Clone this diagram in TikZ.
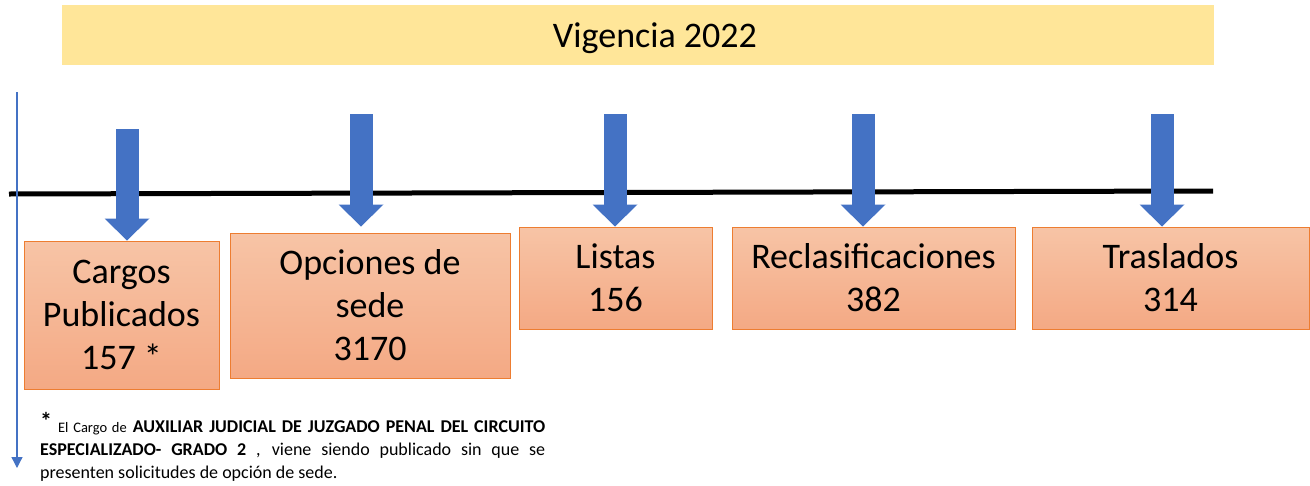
\documentclass[tikz,border=0pt]{standalone}
\usepackage{fontspec}
\setmainfont{Carlito}
\usetikzlibrary{arrows.meta}
\usetikzlibrary{positioning}
\definecolor{azulflecha}{HTML}{4472C4}
\definecolor{bordenaranja}{HTML}{ED7D31}
\definecolor{naranjaclaro}{HTML}{F7C4A6}
\definecolor{naranjaoscuro}{HTML}{F4A984}
\definecolor{amarillo}{HTML}{FFE699}

\begin{document}
\begin{tikzpicture}[x=1pt, y=-1pt, >=Stealth,
	caja/.style={draw=bordenaranja, line width=1pt, top color=naranjaclaro, bottom color=naranjaoscuro,
		inner sep=0pt, align=center, font=\fontsize{36}{43}\selectfont},
	flecha/.style={azulflecha, line width=23pt, -{Triangle[width=45pt, length=22pt, line width=0pt]}}]
	\useasboundingbox (0,0) rectangle (1310,485);
	
	% Titulo
	\node[fill=amarillo, minimum width=1152pt, minimum height=60pt, inner sep=0pt] (banner) at (638,35) {};
	\node[anchor=base, font=\fontsize{36}{43}\selectfont] (titulo) at (655,47) {Vigencia 2022};
	
	% Linea de tiempo
	\coordinate (ini) at (9,194);
	\coordinate (fin) at (1213,191);
	\draw[line width=5pt] (ini) -- (fin);
	
	% Flecha vertical izquierda
	\coordinate (arriba) at (17,92);
	\coordinate (abajo) at (17,468);
	\draw[azulflecha, line width=1.3pt, -{Triangle[width=11pt, length=11pt]}] (arriba) -- (abajo);
	
	% Cajas
	\node[caja, minimum width=195pt, minimum height=148pt] (cargos) at (121.5,315) {Cargos\\Publicados\\157 *};
	\node[caja, minimum width=280pt, minimum height=145pt] (opciones) at (370,305.5) {Opciones de\\sede\\3170};
	\node[caja, minimum width=193pt, minimum height=102pt] (listas) at (615.5,278) {Listas\\156};
	\node[caja, minimum width=283pt, minimum height=102pt] (reclas) at (873.5,278) {Reclasificaciones\\382};
	\node[caja, minimum width=277pt, minimum height=102pt] (traslados) at (1170.5,278) {Traslados\\314};
	
	% Flechas azules
	\coordinate (f1) at (127,129);
	\coordinate (f2) at (361,114);
	\coordinate (f3) at (615,114);
	\coordinate (f4) at (863,114);
	\coordinate (f5) at (1162,114);
	\draw[flecha] (f1) -- (f1 |- cargos.north);
	\draw[flecha] (f2) -- ([yshift=6pt]f2 |- opciones.north);
	\draw[flecha] (f3) -- (f3 |- listas.north);
	\draw[flecha] (f4) -- (f4 |- reclas.north);
	\draw[flecha] (f5) -- (f5 |- traslados.north);
	
	% Nota
	\node[anchor=base west, text width=505pt, align=justify, inner sep=0pt, font=\fontsize{18}{23}\selectfont] (nota) at (40,432)
		{\raisebox{3pt}{\fontsize{24}{24}\selectfont\bfseries *} {\fontsize{14.5}{14.5}\selectfont El Cargo de} \textbf{AUXILIAR JUDICIAL DE JUZGADO PENAL DEL CIRCUITO}\linebreak
		\textbf{ESPECIALIZADO- GRADO 2} , viene siendo publicado sin que se\linebreak
		presenten solicitudes de opción de sede.};
\end{tikzpicture}
\end{document}
